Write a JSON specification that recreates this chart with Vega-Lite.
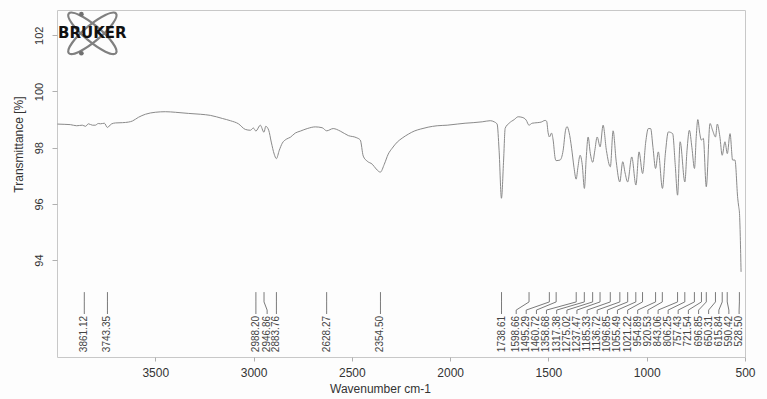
{
  "$schema": "https://vega.github.io/schema/vega-lite/v6.json",
  "width": 688,
  "height": 347,
  "autosize": {"type": "none"},
  "padding": {"left": 57, "top": 10, "right": 22, "bottom": 42},
  "background": "#fdfdfd",
  "config": {
    "view": {"stroke": "#c8c8c8", "strokeWidth": 1},
    "font": "Liberation Sans",
    "axis": {"grid": false, "domain": false, "tickColor": "#b0b0b0", "labelColor": "#333333", "titleColor": "#333333", "titleFontWeight": "normal"},
    "axisX": {"labelFontSize": 12, "tickSize": 4, "labelPadding": 6, "titleFontSize": 12, "titlePadding": 5, "titleX": 323, "labelFlush": false},
    "axisY": {"labelAngle": -90, "labelAlign": "center", "labelBaseline": "bottom", "labelFontSize": 11, "tickSize": 5, "labelPadding": 8, "titleFontSize": 12, "titleY": 134, "titlePadding": 8, "labelFlush": false}
  },
  "datasets": {
    "spectrum": [
      {"wn": 3998, "t": 98.84}, {"wn": 3960, "t": 98.83}, {"wn": 3932, "t": 98.82}, {"wn": 3900, "t": 98.78},
      {"wn": 3871, "t": 98.80}, {"wn": 3855, "t": 98.76}, {"wn": 3840, "t": 98.85}, {"wn": 3820, "t": 98.80},
      {"wn": 3805, "t": 98.80}, {"wn": 3790, "t": 98.86}, {"wn": 3779, "t": 98.85}, {"wn": 3759, "t": 98.87},
      {"wn": 3744, "t": 98.72}, {"wn": 3724, "t": 98.84}, {"wn": 3703, "t": 98.88}, {"wn": 3667, "t": 98.89},
      {"wn": 3637, "t": 98.91}, {"wn": 3616, "t": 98.95}, {"wn": 3586, "t": 99.08}, {"wn": 3550, "t": 99.19},
      {"wn": 3500, "t": 99.26}, {"wn": 3449, "t": 99.28}, {"wn": 3398, "t": 99.26}, {"wn": 3332, "t": 99.22},
      {"wn": 3271, "t": 99.19}, {"wn": 3220, "t": 99.15}, {"wn": 3159, "t": 99.04}, {"wn": 3118, "t": 98.96},
      {"wn": 3077, "t": 98.85}, {"wn": 3042, "t": 98.65}, {"wn": 3016, "t": 98.62}, {"wn": 3001, "t": 98.70},
      {"wn": 2988, "t": 98.59}, {"wn": 2966, "t": 98.80}, {"wn": 2947, "t": 98.55}, {"wn": 2938, "t": 98.76},
      {"wn": 2923, "t": 98.62}, {"wn": 2910, "t": 98.20}, {"wn": 2895, "t": 97.77}, {"wn": 2884, "t": 97.61},
      {"wn": 2869, "t": 97.91}, {"wn": 2854, "t": 98.16}, {"wn": 2834, "t": 98.30}, {"wn": 2813, "t": 98.37},
      {"wn": 2788, "t": 98.52}, {"wn": 2762, "t": 98.59}, {"wn": 2727, "t": 98.68}, {"wn": 2686, "t": 98.74},
      {"wn": 2651, "t": 98.71}, {"wn": 2628, "t": 98.60}, {"wn": 2595, "t": 98.68}, {"wn": 2559, "t": 98.59},
      {"wn": 2518, "t": 98.43}, {"wn": 2478, "t": 98.36}, {"wn": 2457, "t": 98.27}, {"wn": 2442, "t": 97.70},
      {"wn": 2422, "t": 97.52}, {"wn": 2396, "t": 97.41}, {"wn": 2376, "t": 97.24}, {"wn": 2355, "t": 97.13},
      {"wn": 2335, "t": 97.41}, {"wn": 2315, "t": 97.77}, {"wn": 2295, "t": 97.98}, {"wn": 2269, "t": 98.20},
      {"wn": 2244, "t": 98.34}, {"wn": 2213, "t": 98.48}, {"wn": 2183, "t": 98.59}, {"wn": 2152, "t": 98.66},
      {"wn": 2112, "t": 98.73}, {"wn": 2066, "t": 98.78}, {"wn": 2015, "t": 98.80}, {"wn": 1964, "t": 98.84},
      {"wn": 1924, "t": 98.87}, {"wn": 1883, "t": 98.89}, {"wn": 1837, "t": 98.92}, {"wn": 1796, "t": 98.96},
      {"wn": 1776, "t": 98.92}, {"wn": 1761, "t": 98.84}, {"wn": 1751, "t": 97.91}, {"wn": 1739, "t": 96.20},
      {"wn": 1728, "t": 97.56}, {"wn": 1720, "t": 98.69}, {"wn": 1700, "t": 98.87}, {"wn": 1674, "t": 99.00},
      {"wn": 1654, "t": 99.10}, {"wn": 1634, "t": 99.08}, {"wn": 1613, "t": 98.98}, {"wn": 1599, "t": 98.80},
      {"wn": 1583, "t": 98.87}, {"wn": 1557, "t": 98.89}, {"wn": 1537, "t": 98.91}, {"wn": 1517, "t": 98.97},
      {"wn": 1509, "t": 98.94}, {"wn": 1502, "t": 98.55}, {"wn": 1495, "t": 98.38}, {"wn": 1484, "t": 98.52},
      {"wn": 1476, "t": 98.27}, {"wn": 1466, "t": 97.63}, {"wn": 1461, "t": 97.54}, {"wn": 1441, "t": 97.56},
      {"wn": 1425, "t": 97.91}, {"wn": 1413, "t": 98.62}, {"wn": 1405, "t": 98.75}, {"wn": 1395, "t": 98.55},
      {"wn": 1382, "t": 97.98}, {"wn": 1370, "t": 97.30}, {"wn": 1359, "t": 96.88}, {"wn": 1350, "t": 97.30},
      {"wn": 1339, "t": 97.73}, {"wn": 1328, "t": 97.40}, {"wn": 1317, "t": 96.55}, {"wn": 1308, "t": 97.60},
      {"wn": 1298, "t": 98.38}, {"wn": 1287, "t": 97.80}, {"wn": 1275, "t": 97.48}, {"wn": 1264, "t": 97.90},
      {"wn": 1252, "t": 98.38}, {"wn": 1237, "t": 98.03}, {"wn": 1222, "t": 98.80}, {"wn": 1205, "t": 97.90},
      {"wn": 1185, "t": 97.32}, {"wn": 1171, "t": 98.60}, {"wn": 1155, "t": 97.50}, {"wn": 1137, "t": 96.78},
      {"wn": 1122, "t": 97.50}, {"wn": 1110, "t": 97.10}, {"wn": 1097, "t": 96.78}, {"wn": 1076, "t": 97.67},
      {"wn": 1055, "t": 96.67}, {"wn": 1039, "t": 97.85}, {"wn": 1021, "t": 97.08}, {"wn": 1005, "t": 98.20},
      {"wn": 992, "t": 98.68}, {"wn": 980, "t": 98.68}, {"wn": 968, "t": 98.00}, {"wn": 955, "t": 97.26},
      {"wn": 941, "t": 97.85}, {"wn": 920, "t": 96.55}, {"wn": 905, "t": 97.80}, {"wn": 890, "t": 98.56},
      {"wn": 868, "t": 98.50}, {"wn": 855, "t": 97.40}, {"wn": 843, "t": 96.31}, {"wn": 830, "t": 98.21},
      {"wn": 806, "t": 96.78}, {"wn": 795, "t": 97.90}, {"wn": 783, "t": 98.62}, {"wn": 770, "t": 98.00},
      {"wn": 757, "t": 97.26}, {"wn": 748, "t": 98.40}, {"wn": 740, "t": 99.00}, {"wn": 730, "t": 98.50},
      {"wn": 722, "t": 98.27}, {"wn": 712, "t": 98.33}, {"wn": 697, "t": 96.61}, {"wn": 678, "t": 98.86},
      {"wn": 664, "t": 98.60}, {"wn": 650, "t": 98.38}, {"wn": 641, "t": 98.84}, {"wn": 628, "t": 98.40},
      {"wn": 616, "t": 97.73}, {"wn": 602, "t": 98.21}, {"wn": 590, "t": 97.79}, {"wn": 576, "t": 98.50},
      {"wn": 563, "t": 97.56}, {"wn": 551, "t": 97.56}, {"wn": 537, "t": 96.20}, {"wn": 532, "t": 95.90},
      {"wn": 528, "t": 95.66}, {"wn": 520, "t": 93.58}
    ],
    "peaks": [
      {"wn": 3861.12, "lx": 3861.12, "label": "3861.12"},
      {"wn": 3743.35, "lx": 3743.35, "label": "3743.35"},
      {"wn": 2988.20, "lx": 2988.20, "label": "2988.20"},
      {"wn": 2946.86, "lx": 2931, "label": "2946.86"},
      {"wn": 2883.76, "lx": 2883.76, "label": "2883.76"},
      {"wn": 2628.27, "lx": 2628.27, "label": "2628.27"},
      {"wn": 2354.50, "lx": 2354.50, "label": "2354.50"},
      {"wn": 1738.61, "lx": 1738.61, "label": "1738.61"},
      {"wn": 1598.66, "lx": 1664, "label": "1598.66"},
      {"wn": 1495.29, "lx": 1613, "label": "1495.29"},
      {"wn": 1460.72, "lx": 1561, "label": "1460.72"},
      {"wn": 1358.68, "lx": 1510, "label": "1358.68"},
      {"wn": 1317.38, "lx": 1458, "label": "1317.38"},
      {"wn": 1275.02, "lx": 1406, "label": "1275.02"},
      {"wn": 1237.47, "lx": 1355, "label": "1237.47"},
      {"wn": 1185.33, "lx": 1303, "label": "1185.33"},
      {"wn": 1136.72, "lx": 1252, "label": "1136.72"},
      {"wn": 1096.85, "lx": 1200, "label": "1096.85"},
      {"wn": 1055.49, "lx": 1149, "label": "1055.49"},
      {"wn": 1021.22, "lx": 1097, "label": "1021.22"},
      {"wn": 954.89, "lx": 1046, "label": "954.89"},
      {"wn": 920.53, "lx": 994, "label": "920.53"},
      {"wn": 843.06, "lx": 942, "label": "843.06"},
      {"wn": 806.25, "lx": 891, "label": "806.25"},
      {"wn": 757.43, "lx": 840, "label": "757.43"},
      {"wn": 721.54, "lx": 788, "label": "721.54"},
      {"wn": 696.85, "lx": 736, "label": "696.85"},
      {"wn": 650.31, "lx": 685, "label": "650.31"},
      {"wn": 615.84, "lx": 633, "label": "615.84"},
      {"wn": 590.42, "lx": 582, "label": "590.42"},
      {"wn": 528.50, "lx": 530, "label": "528.50"}
    ],
    "logo": [{"wn": 3820, "t": 102.07, "label": "BRUKER"}],
    "logodots": [{"wn": 3876, "t": 102.75}, {"wn": 3876, "t": 101.36}]
  },
  "encoding": {
    "x": {"type": "quantitative", "title": "Wavenumber cm-1", "scale": {"domain": [500, 4000], "reverse": true, "nice": false, "zero": false},
          "axis": {"values": [500, 1000, 1500, 2000, 2500, 3000, 3500], "format": "d"}},
    "y": {"type": "quantitative", "title": "Transmittance [%]", "scale": {"domain": [90.55, 102.9], "nice": false, "zero": false},
          "axis": {"values": [94, 96, 98, 100, 102], "format": "d"}}
  },
  "layer": [
    {
      "data": {"name": "spectrum"},
      "mark": {"type": "line", "color": "#8a8a8a", "strokeWidth": 1, "interpolate": "monotone"},
      "encoding": {
        "x": {"field": "wn", "type": "quantitative", "title": "Wavenumber cm-1", "axis": {"values": [500, 1000, 1500, 2000, 2500, 3000, 3500], "format": "d"}},
        "y": {"field": "t", "type": "quantitative", "title": "Transmittance [%]", "axis": {"values": [94, 96, 98, 100, 102], "format": "d"}}
      }
    },
    {
      "data": {"name": "peaks"},
      "mark": {"type": "rule", "color": "#7a7a7a", "strokeWidth": 1},
      "encoding": {
        "x": {"field": "wn", "type": "quantitative", "title": "Wavenumber cm-1"},
        "y": {"datum": 92.86, "type": "quantitative", "title": "Transmittance [%]"},
        "y2": {"datum": 92.51}
      }
    },
    {
      "data": {"name": "peaks"},
      "mark": {"type": "rule", "color": "#7a7a7a", "strokeWidth": 1},
      "encoding": {
        "x": {"field": "wn", "type": "quantitative", "title": "Wavenumber cm-1"},
        "x2": {"field": "lx"},
        "y": {"datum": 92.51, "type": "quantitative", "title": "Transmittance [%]"},
        "y2": {"datum": 92.22}
      }
    },
    {
      "data": {"name": "peaks"},
      "mark": {"type": "rule", "color": "#7a7a7a", "strokeWidth": 1},
      "encoding": {
        "x": {"field": "lx", "type": "quantitative", "title": "Wavenumber cm-1"},
        "y": {"datum": 92.22, "type": "quantitative", "title": "Transmittance [%]"},
        "y2": {"datum": 92.08}
      }
    },
    {
      "data": {"name": "peaks"},
      "mark": {"type": "text", "angle": 270, "align": "right", "baseline": "middle", "fontSize": 10, "color": "#444444"},
      "encoding": {
        "x": {"field": "lx", "type": "quantitative", "title": "Wavenumber cm-1"},
        "y": {"datum": 92.01, "type": "quantitative", "title": "Transmittance [%]"},
        "text": {"field": "label"}
      }
    },
    {
      "data": {"name": "logo"},
      "mark": {"type": "point", "shape": "M -1 0 A 1 0.26 0 1 0 1 0 A 1 0.26 0 1 0 -1 0 Z", "size": 3800, "angle": 40, "filled": false, "stroke": "#808080", "strokeWidth": 2.2, "opacity": 1},
      "encoding": {
        "x": {"field": "wn", "type": "quantitative", "title": "Wavenumber cm-1"},
        "y": {"field": "t", "type": "quantitative", "title": "Transmittance [%]"}
      }
    },
    {
      "data": {"name": "logo"},
      "mark": {"type": "point", "shape": "M -1 0 A 1 0.26 0 1 0 1 0 A 1 0.26 0 1 0 -1 0 Z", "size": 3800, "angle": -40, "filled": false, "stroke": "#808080", "strokeWidth": 2.2, "opacity": 1},
      "encoding": {
        "x": {"field": "wn", "type": "quantitative", "title": "Wavenumber cm-1"},
        "y": {"field": "t", "type": "quantitative", "title": "Transmittance [%]"}
      }
    },
    {
      "data": {"name": "logodots"},
      "mark": {"type": "point", "shape": "circle", "size": 22, "filled": true, "color": "#707070", "opacity": 1},
      "encoding": {
        "x": {"field": "wn", "type": "quantitative", "title": "Wavenumber cm-1"},
        "y": {"field": "t", "type": "quantitative", "title": "Transmittance [%]"}
      }
    },
    {
      "data": {"name": "logo"},
      "mark": {"type": "text", "font": "DejaVu Sans", "fontWeight": "bold", "fontSize": 15, "color": "#111111", "align": "center", "baseline": "middle"},
      "encoding": {
        "x": {"field": "wn", "type": "quantitative", "title": "Wavenumber cm-1"},
        "y": {"field": "t", "type": "quantitative", "title": "Transmittance [%]"},
        "text": {"field": "label"}
      }
    }
  ]
}
